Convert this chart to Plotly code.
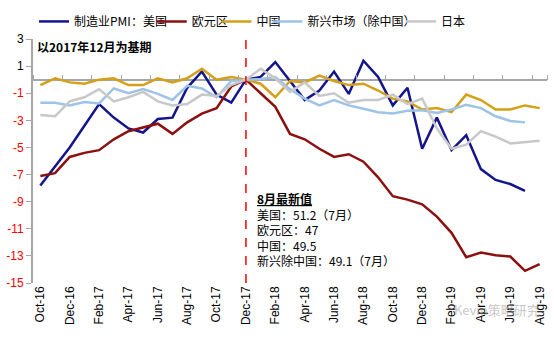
import plotly.graph_objects as go

months = ["Oct-16", "Nov-16", "Dec-16", "Jan-17", "Feb-17", "Mar-17", "Apr-17", "May-17",
          "Jun-17", "Jul-17", "Aug-17", "Sep-17", "Oct-17", "Nov-17", "Dec-17", "Jan-18",
          "Feb-18", "Mar-18", "Apr-18", "May-18", "Jun-18", "Jul-18", "Aug-18", "Sep-18",
          "Oct-18", "Nov-18", "Dec-18", "Jan-19", "Feb-19", "Mar-19", "Apr-19", "May-19",
          "Jun-19", "Jul-19", "Aug-19"]
tick_months = months[::2]
base_month = "Dec-17"

us = [-7.8, -6.4, -5.0, -3.4, -1.8, -2.8, -3.6, -3.9, -2.9, -2.8, -0.6, 0.6, -1.1, -1.7, 0.0,
      0.2, 1.3, -0.1, -1.5, -0.8, 0.6, -1.05, 1.4, 0.2, -1.9, -0.6, -5.1, -2.8, -5.2, -4.1,
      -6.6, -7.4, -7.7, -8.2, None]
euro = [-7.1, -6.9, -5.7, -5.4, -5.2, -4.4, -3.8, -3.55, -3.25, -4.0, -3.15, -2.5, -2.1, -0.5, 0.0,
        -1.0, -2.0, -4.0, -4.4, -5.1, -5.7, -5.5, -6.05, -7.2, -8.6, -8.85, -9.2, -10.1, -11.3,
        -13.1, -12.75, -12.95, -13.05, -14.1, -13.6]
china = [-0.4, 0.1, -0.2, -0.3, 0.0, 0.1, -0.4, -0.4, 0.1, -0.2, 0.1, 0.8, 0.0, 0.2, 0.0,
         -0.3, -1.3, -0.1, -0.2, 0.3, -0.1, -0.4, -0.3, -0.8, -1.4, -1.6, -2.2, -2.1, -2.4,
         -1.1, -1.5, -2.2, -2.2, -1.9, -2.1]
em = [-1.7, -1.7, -1.9, -1.65, -1.75, -0.65, -1.0, -0.7, -1.05, -1.5, -0.45, -0.65, -1.3, -0.1, 0.0,
      0.05, 0.2, -0.7, -1.4, -1.9, -1.5, -1.9, -2.15, -2.4, -2.5, -2.3, -2.25, -2.45, -2.2,
      -1.85, -2.1, -2.7, -3.05, -3.15, None]
japan = [-2.6, -2.7, -1.6, -1.3, -0.7, -1.6, -1.3, -0.9, -1.6, -1.9, -1.8, -1.1, -1.2, -0.4, 0.0,
         0.8, 0.1, -0.9, -0.2, -1.2, -1.0, -1.7, -1.5, -1.5, -1.1, -1.8, -1.4, -3.6, -5.1,
         -4.8, -3.8, -4.2, -4.7, -4.6, -4.5]

series_names = ["制造业PMI：美国", "欧元区", "中国", "新兴市场（除中国）", "日本"]
series_data = [us, euro, china, em, japan]
colors = ["#14148C", "#8B1010", "#D4A017", "#9DC3E6", "#C8C8C8"]
legend_ids = ["legend", "legend2", "legend3", "legend4", "legend5"]
legend_x = [0.002, 0.231, 0.357, 0.456, 0.716]

y_ticks = list(range(-15, 4, 2))
y_ticktext = [f"<span style='color:#FF0000'>{v}</span>" if v < 0 else str(v) for v in y_ticks]

note_title = "8月最新值"
note_lines = ["美国：51.2（7月）", "欧元区：47", "中国：49.5", "新兴除中国：49.1（7月）"]
base_note = "以2017年12月为基期"

FONT = "Noto Sans CJK SC"

fig = go.Figure()
for name, data, c, lg in zip(series_names, series_data, colors, legend_ids):
    fig.add_trace(go.Scatter(x=months, y=data, name=name, mode="lines", legend=lg,
                             line=dict(color=c, width=2.5), connectgaps=False))

# invisible trace for the tick-mark axis on the zero line
fig.add_trace(go.Scatter(x=months, y=china, xaxis="x2", mode="lines",
                         line=dict(width=0, color="rgba(0,0,0,0)"),
                         showlegend=False, hoverinfo="skip"))

fig.add_shape(type="line", xref="x", yref="paper", x0=base_month, x1=base_month, y0=0, y1=1,
              line=dict(color="#FF0000", width=1.5, dash="dash"))

fig.add_annotation(text="<b>" + base_note + "</b>", xref="paper", yref="paper",
                   x=0.004, y=0.969, xanchor="left", yanchor="middle", showarrow=False,
                   font=dict(family=FONT, size=12, color="#000000"))

fig.add_annotation(text="<u><b>" + note_title + "</b></u><br>" + "<br>".join(note_lines),
                   xref="paper", yref="paper", x=0.432, y=0.39, xanchor="left", yanchor="top",
                   align="left", showarrow=False,
                   font=dict(family=FONT, size=12, color="#000000"))

fig.add_annotation(text="Kevin策略研究", xref="paper", yref="paper", x=0.99, y=-0.11,
                   xanchor="right", yanchor="middle", showarrow=False,
                   font=dict(family=FONT, size=13, color="rgba(150,150,150,0.55)"))

legend_common = dict(orientation="h", y=1.072, xanchor="left", yanchor="middle",
                     font=dict(family=FONT, size=12), itemwidth=30,
                     bgcolor="rgba(0,0,0,0)")
legend_layout = {lg: dict(x=lx, **legend_common) for lg, lx in zip(legend_ids, legend_x)}

fig.update_layout(
    width=554, height=340,
    margin=dict(l=33, r=7, t=25, b=57),
    paper_bgcolor="white", plot_bgcolor="white",
    font=dict(family=FONT, size=12, color="#000000"),
    showlegend=True,
    xaxis=dict(type="category", categoryorder="array", categoryarray=months,
               range=[-0.5, len(months) - 0.5],
               tickmode="array", tickvals=tick_months, ticktext=tick_months,
               tickangle=-90, ticks="", showline=False, showgrid=False, zeroline=False,
               tickfont=dict(family="Liberation Sans, Arial", size=12, color="#000000")),
    xaxis2=dict(type="category", categoryorder="array", categoryarray=months,
                overlaying="x", matches="x", anchor="free", position=15 / 18, side="top",
                tickmode="array", tickvals=tick_months, tickson="boundaries",
                ticks="outside", ticklen=5, tickcolor="#A6A6A6", tickwidth=1,
                showticklabels=False, showline=False, showgrid=False),
    yaxis=dict(range=[-15, 3], tickmode="array", tickvals=y_ticks, ticktext=y_ticktext,
               showline=True, linecolor="#A6A6A6", linewidth=2, ticks="outside",
               ticklen=5, tickcolor="#A6A6A6", tickwidth=1,
               showgrid=False, zeroline=True, zerolinecolor="#A6A6A6", zerolinewidth=2,
               tickfont=dict(family="Liberation Sans, Arial", size=12, color="#000000")),
    **legend_layout,
)

fig.write_html("out.html")
